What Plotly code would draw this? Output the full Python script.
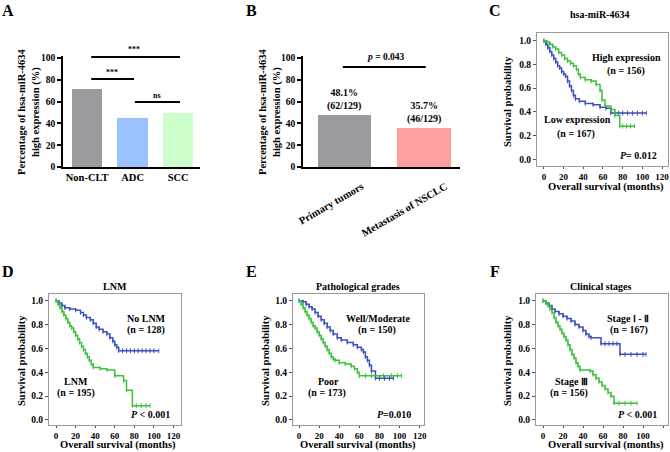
import plotly.graph_objects as go

W, H = 670, 452
FONT = "Liberation Serif"

# ---------------- data ----------------
a_categories = ["Non-CLT", "ADC", "SCC"]
a_values = [72, 45, 50]
a_colors = ["#9b9b9f", "#99c2ff", "#ccffcc"]

b_categories = ["Primary tumors", "Metastasis of NSCLC"]
b_values = [48.1, 35.7]
b_labels = ["48.1%<br>(62/129)", "35.7%<br>(46/129)"]
b_colors = ["#9b9b9f", "#ff9e9e"]

yticks_pct = [0, 20, 40, 60, 80, 100]
km_xticks = [0, 20, 40, 60, 80, 100, 120]
km_yticks = [0.0, 0.2, 0.4, 0.6, 0.8, 1.0]

# C: hsa-miR-4634
c_high_t = [0, 3, 6, 9, 12, 15, 18, 21, 24, 27, 30, 33, 35, 37, 42, 48, 53, 57, 59, 62, 68, 72, 77, 92]
c_high_s = [1.0, 0.99, 0.97, 0.95, 0.93, 0.90, 0.88, 0.85, 0.83, 0.81, 0.79, 0.76, 0.72, 0.69, 0.67, 0.66, 0.63, 0.58, 0.50, 0.45, 0.42, 0.37, 0.28, 0.28]
c_low_t = [0, 2, 4, 6, 8, 10, 12, 14, 16, 18, 20, 22, 24, 26, 28, 30, 32, 36, 42, 50, 57, 63, 68, 104]
c_low_s = [1.0, 0.97, 0.94, 0.91, 0.88, 0.85, 0.82, 0.79, 0.77, 0.74, 0.72, 0.70, 0.66, 0.62, 0.58, 0.54, 0.51, 0.49, 0.47, 0.46, 0.44, 0.43, 0.39, 0.39]
c_high_cens_t = [80, 84, 88]
c_high_cens_s = [0.28, 0.28, 0.28]
c_low_cens_t = [72, 76, 80, 85, 90, 95, 100]
c_low_cens_s = [0.39, 0.39, 0.39, 0.39, 0.39, 0.39, 0.39]

# D: LNM
d_no_t = [0, 3, 6, 9, 14, 20, 25, 28, 31, 35, 38, 41, 44, 48, 52, 55, 58, 60, 62, 64, 105]
d_no_s = [1.0, 0.98, 0.96, 0.94, 0.93, 0.92, 0.90, 0.88, 0.86, 0.84, 0.81, 0.78, 0.76, 0.74, 0.72, 0.69, 0.66, 0.63, 0.61, 0.58, 0.58]
d_lnm_t = [0, 2, 4, 6, 8, 10, 12, 14, 16, 18, 20, 22, 24, 26, 28, 30, 32, 34, 36, 38, 45, 52, 60, 69, 72, 78, 96]
d_lnm_s = [1.0, 0.97, 0.94, 0.91, 0.88, 0.85, 0.82, 0.79, 0.77, 0.74, 0.71, 0.68, 0.65, 0.62, 0.59, 0.56, 0.53, 0.50, 0.47, 0.44, 0.43, 0.42, 0.37, 0.33, 0.25, 0.12, 0.12]
d_no_cens_t = [68, 72, 76, 80, 84, 88, 92, 96, 100]
d_no_cens_s = [0.58, 0.58, 0.58, 0.58, 0.58, 0.58, 0.58, 0.58, 0.58]
d_lnm_cens_t = [82, 87, 92]
d_lnm_cens_s = [0.12, 0.12, 0.12]

# E: Pathological grades
e_well_t = [0, 4, 7, 10, 13, 16, 19, 22, 25, 28, 31, 34, 38, 42, 48, 54, 58, 62, 64, 66, 68, 70, 72, 76, 94]
e_well_s = [1.0, 0.99, 0.97, 0.95, 0.93, 0.90, 0.87, 0.84, 0.81, 0.78, 0.75, 0.72, 0.69, 0.67, 0.65, 0.63, 0.61, 0.59, 0.57, 0.53, 0.50, 0.46, 0.41, 0.35, 0.35]
e_poor_t = [0, 2, 4, 6, 8, 10, 12, 14, 16, 18, 20, 22, 24, 26, 28, 30, 32, 34, 36, 40, 46, 52, 55, 58, 60, 102]
e_poor_s = [1.0, 0.97, 0.94, 0.91, 0.88, 0.85, 0.82, 0.79, 0.77, 0.74, 0.71, 0.68, 0.65, 0.62, 0.59, 0.56, 0.53, 0.51, 0.50, 0.48, 0.47, 0.45, 0.43, 0.40, 0.37, 0.37]
e_well_cens_t = [80, 85, 90]
e_well_cens_s = [0.35, 0.35, 0.35]
e_poor_cens_t = [66, 72, 84, 92, 98]
e_poor_cens_s = [0.37, 0.37, 0.37, 0.37, 0.37]

# F: Clinical stages
f_early_t = [0, 3, 6, 9, 12, 16, 20, 24, 28, 32, 36, 40, 43, 46, 48, 58, 77, 103]
f_early_s = [1.0, 0.98, 0.96, 0.93, 0.91, 0.89, 0.87, 0.85, 0.83, 0.80, 0.78, 0.75, 0.72, 0.70, 0.69, 0.64, 0.55, 0.55]
f_late_t = [0, 3, 5, 7, 9, 11, 13, 15, 17, 19, 21, 23, 25, 27, 29, 31, 33, 35, 37, 47, 50, 53, 56, 59, 62, 65, 68, 71, 94]
f_late_s = [1.0, 0.98, 0.96, 0.93, 0.90, 0.86, 0.82, 0.79, 0.76, 0.73, 0.70, 0.67, 0.63, 0.59, 0.55, 0.52, 0.48, 0.45, 0.42, 0.41, 0.38, 0.35, 0.32, 0.29, 0.26, 0.23, 0.20, 0.14, 0.14]
f_early_cens_t = [62, 66, 70, 74, 82, 88, 94, 100]
f_early_cens_s = [0.64, 0.64, 0.64, 0.64, 0.55, 0.55, 0.55, 0.55]
f_late_cens_t = [76, 82, 88]
f_late_cens_s = [0.14, 0.14, 0.14]

BLUE = "#3b4fbf"
GREEN = "#3cc13c"


def px(x):
    return x / W


def py(y):
    return 1 - y / H


fig = go.Figure()

# ---------- bar panels ----------
fig.add_trace(go.Bar(x=a_categories, y=a_values, marker_color=a_colors, width=0.67,
                     marker_line_width=0, xaxis="x", yaxis="y", showlegend=False))
fig.add_trace(go.Bar(x=b_categories, y=b_values, marker_color=b_colors, width=0.67,
                     marker_line_width=0, xaxis="x2", yaxis="y2", showlegend=False))


def km(t, s, color, ax, cens_t, cens_s):
    fig.add_trace(go.Scatter(x=t, y=s, mode="lines+markers", line_shape="hv",
                             line=dict(color=color, width=1.5),
                             marker=dict(symbol="line-ns", size=3,
                                         line=dict(color=color, width=1)),
                             xaxis="x" + ax, yaxis="y" + ax, showlegend=False,
                             cliponaxis=False))
    fig.add_trace(go.Scatter(x=cens_t, y=cens_s, mode="markers",
                             marker=dict(symbol="line-ns", size=3.5,
                                         line=dict(color=color, width=1)),
                             xaxis="x" + ax, yaxis="y" + ax, showlegend=False))


km(c_low_t, c_low_s, BLUE, "3", c_low_cens_t, c_low_cens_s)
km(c_high_t, c_high_s, GREEN, "3", c_high_cens_t, c_high_cens_s)
km(d_no_t, d_no_s, BLUE, "4", d_no_cens_t, d_no_cens_s)
km(d_lnm_t, d_lnm_s, GREEN, "4", d_lnm_cens_t, d_lnm_cens_s)
km(e_well_t, e_well_s, BLUE, "5", e_well_cens_t, e_well_cens_s)
km(e_poor_t, e_poor_s, GREEN, "5", e_poor_cens_t, e_poor_cens_s)
km(f_early_t, f_early_s, BLUE, "6", f_early_cens_t, f_early_cens_s)
km(f_late_t, f_late_s, GREEN, "6", f_late_cens_t, f_late_cens_s)

tickfont_bar_y = dict(family=FONT, size=9.5, color="black", weight="bold")
tickfont_bar_x = dict(family=FONT, size=10.5, color="black", weight="bold")
tickfont_km = dict(family=FONT, size=9, color="black", weight="bold")

bar_y = dict(range=[0, 102], tickvals=yticks_pct, showline=True, linecolor="black",
             linewidth=1.5, ticks="outside", ticklen=4, tickwidth=1.5, tickcolor="black",
             showgrid=False, zeroline=False, tickfont=tickfont_bar_y, automargin=False)
bar_x = dict(showline=True, linecolor="black", linewidth=1.5, ticks="",
             showgrid=False, zeroline=False, tickfont=tickfont_bar_x, automargin=False)

km_x = dict(tickvals=km_xticks, showline=True, mirror=True, linecolor="#9a9a9a",
            linewidth=1, ticks="outside", ticklen=2, tickcolor="#555", showgrid=False,
            zeroline=False, tickfont=tickfont_km, automargin=False)
km_y = dict(tickvals=km_yticks, tickformat=".1f", showline=True, mirror=True,
            linecolor="#9a9a9a", linewidth=1, ticks="outside", ticklen=3,
            tickcolor="#555", showgrid=False, zeroline=False,
            tickfont=dict(tickfont_km, size=9.5), automargin=False)

layout_axes = dict(
    xaxis=dict(bar_x, domain=[px(63), px(200)], range=[-0.53, 2.48], anchor="y"),
    yaxis=dict(bar_y, domain=[py(167), py(55.8)], anchor="x"),
    xaxis2=dict(bar_x, domain=[px(303), px(460)], range=[-0.52, 1.45], anchor="y2",
                showticklabels=False),
    yaxis2=dict(bar_y, domain=[py(167), py(55.8)], anchor="x2"),
    xaxis3=dict(km_x, domain=[px(537), px(668)], range=[-7, 126], anchor="y3"),
    yaxis3=dict(km_y, domain=[py(166), py(33)], range=[-0.056, 1.065], anchor="x3"),
    xaxis4=dict(km_x, domain=[px(49), px(181)], range=[-7.2, 127.7], anchor="y4"),
    yaxis4=dict(km_y, domain=[py(425), py(294)], range=[-0.042, 1.056], anchor="x4"),
    xaxis5=dict(km_x, domain=[px(293), px(424)], range=[-6, 124.3], anchor="y5"),
    yaxis5=dict(km_y, domain=[py(425), py(294)], range=[-0.042, 1.056], anchor="x5"),
    xaxis6=dict(km_x, domain=[px(536), px(668)], range=[-7, 125], anchor="y6"),
    yaxis6=dict(km_y, domain=[py(425), py(294)], range=[-0.042, 1.056], anchor="x6"),
)

fig.update_layout(template="none", width=W, height=H,
                  margin=dict(l=0, r=0, t=0, b=0, pad=0, autoexpand=False),
                  paper_bgcolor="white", plot_bgcolor="white", bargap=0,
                  font=dict(family=FONT, color="black"), **layout_axes)

ann = []


def text(x, y, t, size=10, xanchor="center", angle=0, weight="bold"):
    ann.append(dict(x=px(x), y=py(y), xref="paper", yref="paper", text=t,
                    showarrow=False, xanchor=xanchor, yanchor="middle",
                    textangle=angle,
                    font=dict(family=FONT, size=size, color="black", weight=weight)))


# panel letters
for lx, ly, lt in [(8, 10, "A"), (251, 10, "B"), (495, 10, "C"),
                   (8, 271, "D"), (251, 271, "E"), (495, 271, "F")]:
    text(lx, ly, lt, size=16)

# bar y titles
text(29, 112, "Percentage of hsa-miR-4634<br>high expression (%)", size=10.5, angle=-90)
text(270, 112, "Percentage of hsa-miR-4634<br>high expression (%)", size=10.5, angle=-90)

# B rotated category labels
for cat, shift in zip(b_categories, [24, 28]):
    ann.append(dict(x=cat, y=py(178), xref="x2", yref="paper", text=cat,
                    showarrow=False, xanchor="right", yanchor="top", textangle=-30,
                    xshift=shift,
                    font=dict(family=FONT, size=10.5, color="black", weight="bold")))

# significance labels A
text(134, 49, "***", size=8)
text(112, 73, "***", size=8)
text(157, 95, "ns", size=8)
# B
text(386, 57, "<i>p</i> = 0.043", size=9.5)
for cat, val, lab in zip(b_categories, b_values, b_labels):
    ann.append(dict(x=cat, y=val, xref="x2", yref="y2", text=lab, showarrow=False,
                    yanchor="bottom", yshift=1,
                    font=dict(family=FONT, size=10, color="black", weight="bold")))

# KM titles & axis titles
for cx, ty, title in [(599, 15, "hsa-miR-4634"), (115, 286, "LNM"),
                      (358, 286, "Pathological grades"), (600, 286, "Clinical stages")]:
    text(cx, ty, title, size=10)
for yx, yc, xx, xy in [(507, 102, 606, 187), (21, 361, 118, 445),
                       (265, 361, 358, 445), (507, 361, 606, 445)]:
    text(yx, yc, "Survival probability", size=10.5, angle=-90)
    text(xx, xy, "Overall survival (months)", size=10.5)

# C annotations
text(626, 57, "High expression")
text(626, 71, "(n = 156)")
text(577, 120, "Low expression")
text(576, 134, "(n = 167)")
text(659, 155, "<i>P</i>= 0.012", xanchor="right")
# D
text(146, 318, "No LNM")
text(146, 330, "(n = 128)")
text(76, 381, "LNM")
text(76, 393, "(n = 195)")
text(172, 414, "<i>P</i> < 0.001", xanchor="right")
# E
text(378, 318, "Well/Moderate")
text(377, 330, "(n = 150)")
text(328, 381, "Poor")
text(327, 393, "(n = 173)")
text(413, 414, "<i>P</i>=0.010", xanchor="right")
# F
text(628, 318, "Stage Ⅰ - Ⅱ")
text(629, 330, "(n = 167)")
text(571, 381, "Stage Ⅲ")
text(569, 393, "(n = 156)")
text(659, 414, "<i>P</i> < 0.001", xanchor="right")

fig.update_layout(annotations=ann)

# brackets
shapes = [
    dict(type="line", xref="x", yref="y", x0=0.09, x1=2.04, y0=100.9, y1=100.9),
    dict(type="line", xref="x", yref="y", x0=0.09, x1=1.03, y0=80.7, y1=80.7),
    dict(type="line", xref="x", yref="y", x0=1.05, x1=2.04, y0=59.6, y1=59.6),
    dict(type="line", xref="x2", yref="y2", x0=-0.02, x1=1.02, y0=91.7, y1=91.7),
]
for s in shapes:
    s["line"] = dict(color="black", width=2)
fig.update_layout(shapes=shapes)

fig.write_html("out.html", config={"displayModeBar": False},
               post_script="document.body.style.margin='0';document.body.style.overflow='hidden';")
